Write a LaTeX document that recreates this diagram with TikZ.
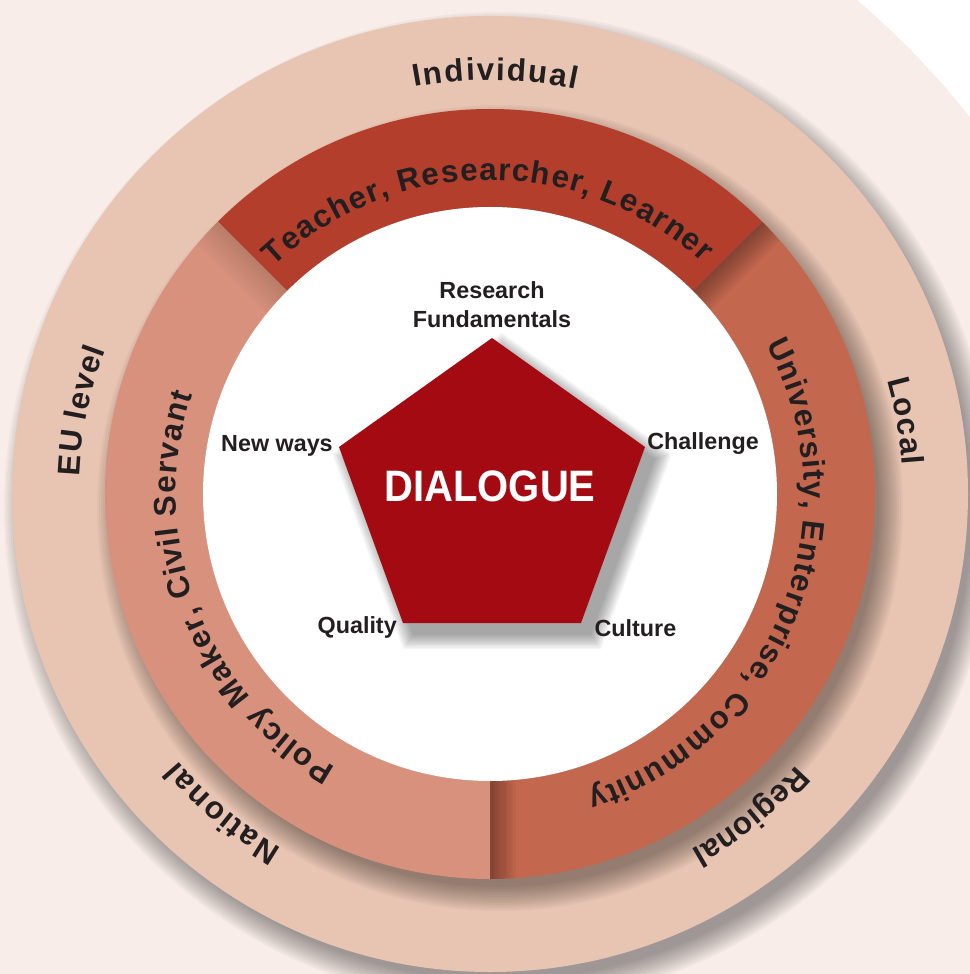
\documentclass[tikz,border=0pt]{standalone}
\usepackage{fontspec}
\setmainfont{Liberation Sans}
\usetikzlibrary{positioning,decorations.text}

\definecolor{paper}{HTML}{F8EDE9}
\definecolor{levelring}{HTML}{E8C4B2}
\definecolor{actortop}{HTML}{B33E2C}
\definecolor{actorright}{HTML}{C4674F}
\definecolor{actorleft}{HTML}{D7917D}
\definecolor{corered}{HTML}{A30A12}
\definecolor{ink}{HTML}{231F20}

\newcommand\ringtype{\bfseries\fontsize{23.5}{28}\selectfont}
\newcommand\corepath{(2,156) coordinate (pTop) -- (155,47) coordinate (pRight)
  -- (91,-129) coordinate (pBR) -- (-87,-129) coordinate (pBL)
  -- (-151,47) coordinate (pLeft) -- cycle}

\tikzset{
  haze/.style={fill=black, opacity=0.03},
  ringlabel/.style={decorate, decoration={text effects along path, text={#1},
    text effects/.cd, text along path, fit text to path,
    characters={text=ink, font=\ringtype, inner sep=0pt, anchor=base}}},
  cornerlabel/.style={font=\bfseries\fontsize{17.5}{21.75}\selectfont, text=ink, inner sep=0pt, align=center},
}

\begin{document}
\begin{tikzpicture}[x=0.75pt, y=0.75pt]
\useasboundingbox (-490,-480) rectangle (480,494);
\fill[white] (-490,-480) rectangle (480,494);
\begin{scope}
  \clip (-490,-480) rectangle (480,494);
  \fill[paper] (-190,-156) circle (856);
\end{scope}

\foreach \k [evaluate=\k as \r using 472+2*\k] in {0,...,12}
  \fill[haze] (10,-14) circle (\r);
\fill[levelring] (0,0) circle (478);
\foreach \k [evaluate=\k as \r using 379+2*\k] in {0,...,12}
  \fill[haze] (10,-14) circle (\r);

\foreach \from/\to/\col in {135/45/actortop, 45/-90/actorright, -90/-225/actorleft}
  \fill[\col] (\from:385) arc (\from:\to:385) -- (\to:287) arc (\to:\from:287) -- cycle;

\begin{scope}
  \clip (45:385) arc (45:-90:385) -- (-90:287) arc (-90:45:287) -- cycle;
  \foreach \k in {1,...,10} {
    \fill[black, opacity=0.036, rotate=45] (280,0) rectangle (390,-2.6*\k);
    \fill[black, opacity=0.036, rotate=-90] (280,0) rectangle (390,2.6*\k);
  }
\end{scope}
\begin{scope}
  \clip (135:385) arc (135:270:385) -- (270:287) arc (270:135:287) -- cycle;
  \foreach \k in {1,...,10}
    \fill[black, opacity=0.012, rotate=135] (280,0) rectangle (390,3*\k);
\end{scope}

\path[ringlabel={Individual}] (100.5:414) arc (100.5:78:414);
\path[ringlabel={Local}] (16:413) arc (16:4:413);
\path[ringlabel={Regional}] (-41.5:409) arc (-41.5:-60.5:409);
\path[ringlabel={National}] (239.5:411) arc (239.5:220.5:411);
\path[ringlabel={EU level}] (177.5:411) arc (177.5:159.5:411);

\path[ringlabel={Teacher{,} Researcher{,} Learner}] (133.5:314) arc (133.5:47.5:314);
\path[ringlabel={University{,} Enterprise{,} Community}] (28.5:314) arc (28.5:-72:314);
\path[ringlabel={Policy Maker{,} Civil Servant}] (240.5:314) arc (240.5:161.5:314);

\fill[white] (0,0) circle (287);

\foreach \k [evaluate=\k as \s using 1+0.011*\k] in {0,...,10}
  \fill[black, opacity=0.035, shift={(10,-12)}, scale around={\s:(2,0)}] \corepath;
\fill[corered] \corepath;

\node[font=\bfseries\fontsize{30}{30}\selectfont, text=white, inner sep=0pt] (dialogue) at (0,7.5) {\scalebox{1}[1.1]{DIALOGUE}};
\node[cornerlabel, above=7.5pt of pTop] (fundamentals) {Research\\Fundamentals};
\node[cornerlabel, left=4.5pt of pLeft, anchor=mid east, yshift=-1pt] (newways) {New ways};
\node[cornerlabel, right=1.5pt of pRight, anchor=mid west, yshift=1pt] (challenge) {Challenge};
\node[cornerlabel, left=4.5pt of pBL, anchor=mid east, yshift=-5.5pt] (quality) {Quality};
\node[cornerlabel, right=10pt of pBR, anchor=mid west, yshift=-7.4pt] (culture) {Culture};
\end{tikzpicture}
\end{document}
